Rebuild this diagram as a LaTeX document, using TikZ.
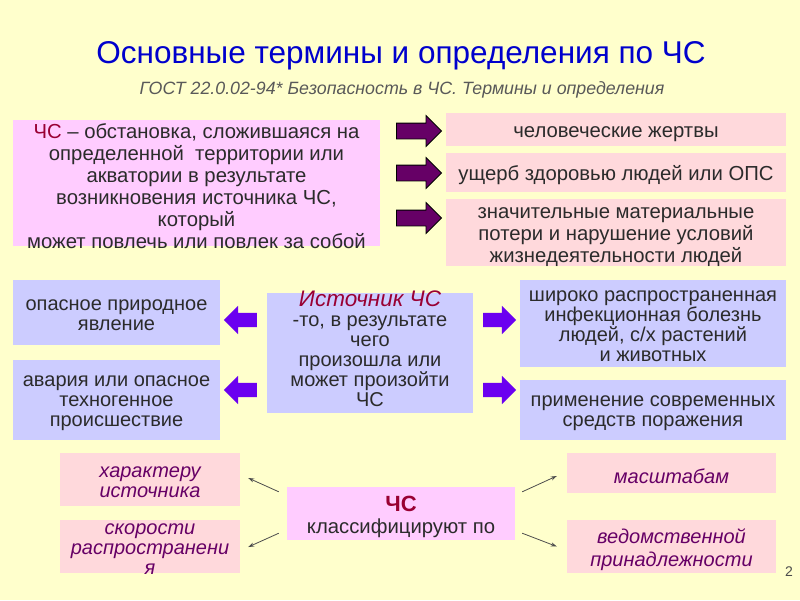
\documentclass[tikz,border=0pt]{standalone}
\usepackage{fontspec}
\setmainfont{Liberation Sans}
\usetikzlibrary{arrows.meta,calc,positioning,shapes.arrows}
\definecolor{bgyellow}{HTML}{FFFFCC}
\definecolor{lilac}{HTML}{FFCCFF}
\definecolor{rosebox}{HTML}{FFD9DC}
\definecolor{lavender}{HTML}{CCCCFF}
\definecolor{titleblue}{HTML}{0000CC}
\definecolor{csred}{HTML}{990033}
\definecolor{plum}{HTML}{660066}
\definecolor{violetarrow}{HTML}{6B00F0}
\definecolor{bodygray}{HTML}{2B2B2B}
\tikzset{%
	pad/.style 2 args = {yshift=-#2, preaction={fill=#1, transform canvas={yshift=#2}}}, % fill stays, text drops
	box/.style      = {rectangle, inner sep=0pt, align=center, text=bodygray, font=\fontsize{20.3}{22}\selectfont},
	defbox/.style   = {box, pad={lilac}{3pt}}, % definition
	effect/.style   = {box, pad={rosebox}{3pt}}, % consequence
	kind/.style     = {box, pad={lavender}{3pt}, font=\fontsize{20}{20}\selectfont}, % source kind
	sortby/.style   = {box, pad={rosebox}{3pt}, text=plum, font=\fontsize{20}{20}\selectfont\itshape}, % criterion
	bigarrow/.style = {single arrow, draw=black, line width=0.8, fill=plum, minimum height=45, inner xsep=0pt, inner ysep=7.5pt, single arrow head extend=7.5pt},
	smallarrow/.style = {single arrow, fill=violetarrow, minimum height=33, inner xsep=0pt, inner ysep=7pt, single arrow head extend=7pt},
	thinarrow/.style  = {-{Stealth[length=6,width=4]}, draw=black!70, line width=0.8},
}

\begin{document}
\begin{tikzpicture}[x=1pt,y=-1pt]
		\fill[bgyellow] (0,0) rectangle (800,600);
		\node[font=\fontsize{31.5}{36}\selectfont, text=titleblue] (title) at (401,56) {Основные термины и определения по ЧС};
		\node[font=\fontsize{17.8}{20}\selectfont\itshape, text=black!65] (gost) at (402,90) {ГОСТ 22.0.02-94* Безопасность в ЧС. Термины и определения};
		\node[defbox, minimum width=367, minimum height=126] (def) at (196.5,183) {\textcolor{csred}{ЧС} – обстановка, сложившаяся на\\определенной\ \ территории или\\акватории в результате\\возникновения источника ЧС,\\который\\может повлечь или повлек за собой};
		\node[box, pad={rosebox}{5pt}, minimum width=340, minimum height=33] (victims) at (616,129.5) {человеческие жертвы};
		\node[effect, minimum width=340, minimum height=39] (health) at (616,172.5) {ущерб здоровью людей или ОПС};
		\node[box, pad={rosebox}{5pt}, minimum width=340, minimum height=67] (losses) at (616,232.5) {значительные материальные\\потери и нарушение условий\\жизнедеятельности людей};
		\foreach \n/\y in {1/131,2/173,3/218}
			\node[bigarrow] (pa\n) at (415,\y) {};
		\node[kind, minimum width=207, minimum height=65] (natural) at (116.5,312.5) {опасное природное\\явление};
		\node[kind, minimum width=207, minimum height=80] (technogenic) at (116.5,400) {авария или опасное\\техногенное\\происшествие};
		\node[box, pad={lavender}{-4pt}, font=\fontsize{20}{20}\selectfont, minimum width=206, minimum height=120] (source) at (370,353) {\textcolor{csred}{\fontsize{22.5}{22}\selectfont\itshape Источник ЧС}\\-то, в результате\\чего\\произошла или\\может произойти\\ЧС};
		\node[kind, minimum width=266, minimum height=87] (epidemic) at (653,323.5) {широко распространенная\\инфекционная болезнь\\людей, с/х растений\\и животных};
		\node[kind, minimum width=266, minimum height=60] (weapons) at (653,410) {применение современных\\средств поражения};
		\foreach \n/\y in {1/320,2/390} {
			\node[smallarrow, shape border rotate=180] (la\n) at (244,\y) {};
			\node[smallarrow] (ra\n) at (496,\y) {};
		}
		\node[sortby, minimum width=180, minimum height=53] (nature) at (150,479.5) {характеру\\источника};
		\node[sortby, minimum width=180, minimum height=53] (speed) at (150,546.5) {скорости\\распространени\\я};
		\node[box, pad={lilac}{3pt}, minimum width=228, minimum height=53] (classify) at (401,513.5) {\textcolor{csred}{\fontsize{22}{22}\selectfont\bfseries ЧС}\\классифицируют по};
		\node[sortby, minimum width=209, minimum height=40] (scale) at (671.5,473) {масштабам};
		\node[sortby, minimum width=209, minimum height=53, font=\fontsize{20}{23}\selectfont\itshape] (dept) at (671.5,546.5) {ведомственной\\принадлежности};
		\coordinate (c1) at ($(classify.north west)+(-8,2)$);
		\coordinate (c2) at ($(classify.south west)+(-8,-10)$);
		\coordinate (c3) at ($(classify.north east)+(7,2)$);
		\coordinate (c4) at ($(classify.south east)+(7,-10)$);
		\coordinate (e1) at ($(nature.east)+(8,-4.5)$);
		\coordinate (e2) at ($(speed.east)+(8,-2.5)$);
		\coordinate (e3) at ($(scale.west)+(-10,0)$);
		\coordinate (e4) at ($(dept.west)+(-10,-3)$);
		\draw[thinarrow] (c1) -- (e1);
		\draw[thinarrow] (c2) -- (e2);
		\draw[thinarrow] (c3) -- (e3);
		\draw[thinarrow] (c4) -- (e4);
		\node[font=\fontsize{14}{16}\selectfont, text=black!70] (page) at (789,572) {2};
		\useasboundingbox (0,0) rectangle (800,600);
\end{tikzpicture}
\end{document}
